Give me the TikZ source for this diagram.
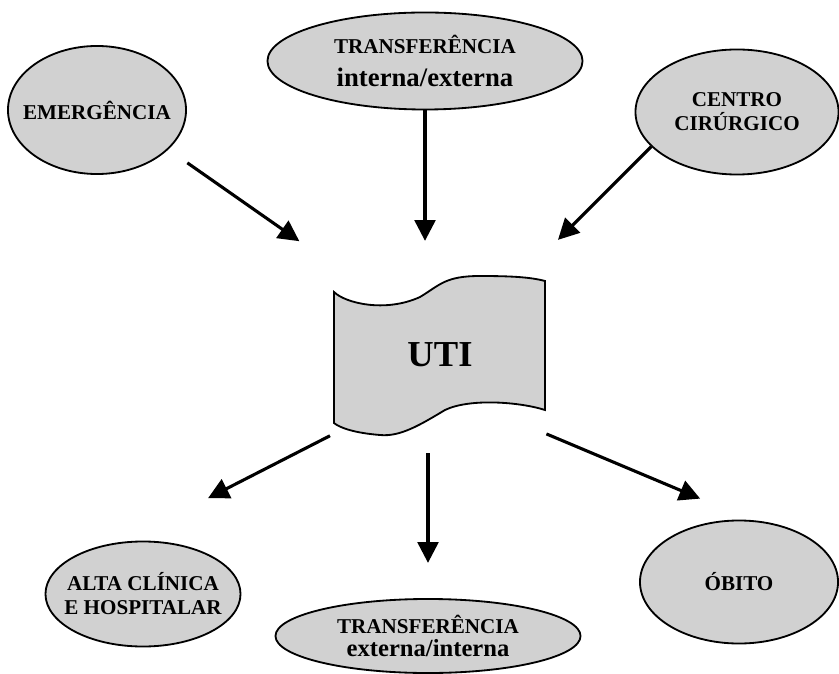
\documentclass[tikz,border=0pt]{standalone}
\usepackage{fontspec}
\setmainfont{Liberation Serif}
\usetikzlibrary{shapes.geometric,arrows.meta}

\begin{document}
\begin{tikzpicture}[x=0.025cm, y=-0.025cm,
    every node/.style={ellipse, draw, line width=1.3pt, fill=black!18, inner xsep=-0.6cm, inner ysep=0pt, align=center, font=\bfseries\fontsize{15}{17}\selectfont},
    freccia/.style={line width=2.2pt, -{Triangle[length=0.52cm,width=0.52cm]}}]
  \path[use as bounding box] (0,0) rectangle (839,674);
  \clip (0,0) rectangle (839,674);

  % Bandiera UTI
  \filldraw[line width=1.3pt, fill=black!18] (334,292) .. controls (345,303) and (385,313) .. (420,297) .. controls (440,285) and (445,276) .. (480,276) .. controls (510,276) and (530,277) .. (545,281) -- (545,410) .. controls (520,402) and (470,398) .. (445,410) .. controls (420,425) and (400,437) .. (380,435) .. controls (355,433) and (340,428) .. (334,423) -- cycle;
  \node (uti) at (440,355) [rectangle, draw=none, fill=none, minimum width=5.275cm, minimum height=3.9cm, font=\bfseries\fontsize{26}{30}\selectfont] {UTI};

  % Livello superiore
  \node (emerg) at (97,110) [minimum width=4.45cm, minimum height=3.2cm] {EMERGÊNCIA};
  \node (ttop) at (425,61) [minimum width=7.875cm, minimum height=2.425cm] {TRANSFERÊNCIA\\[6pt]\fontsize{19}{21}\selectfont interna/externa};
  \node (centro) at (737,112) [minimum width=5.075cm, minimum height=3.125cm] {CENTRO\\CIRÚRGICO};

  % Livello inferiore
  \node (alta) at (143,594) [minimum width=4.875cm, minimum height=2.625cm] {ALTA CLÍNICA\\E HOSPITALAR};
  \node (tbot) at (428,636) [minimum width=7.625cm, minimum height=1.85cm] {TRANSFERÊNCIA\\\fontsize{17.5}{19}\selectfont externa/interna};
  \node (obito) at (739,582) [minimum width=4.95cm, minimum height=3.075cm] {ÓBITO};

  % Collegamenti
  \draw[freccia, shorten <=0.58cm, shorten >=1.52cm] (emerg.-29) -- (uti.139);
  \draw[freccia, shorten >=0.88cm] (ttop.south) -- (ttop.south |- uti.north);
  \draw[freccia, shorten >=1.28cm] (centro.-158) -- (uti.44);
  \draw[freccia, shorten <=0.1cm, shorten >=2.39cm] (uti.south west) -- (alta.111);
  \draw[freccia, shorten <=0.48cm, shorten >=0.88cm] (tbot.north |- uti.south) -- (tbot.north);
  \draw[freccia, shorten >=1.38cm] (uti.south east) -- (obito.79);
\end{tikzpicture}
\end{document}
